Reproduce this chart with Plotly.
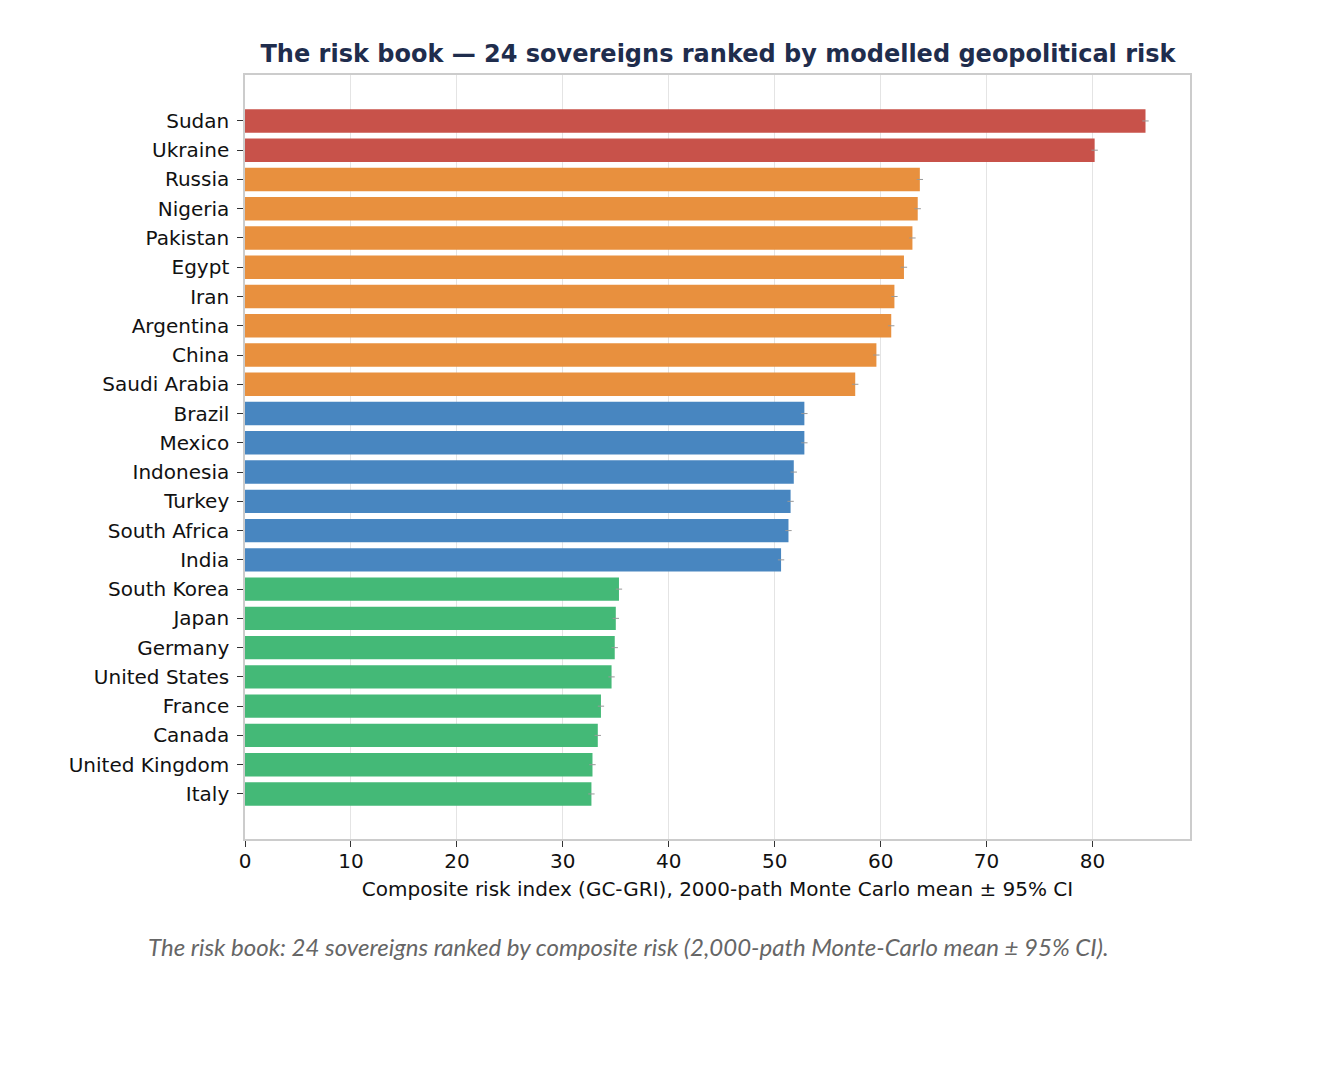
import plotly.graph_objects as go

countries = ["Sudan", "Ukraine", "Russia", "Nigeria", "Pakistan", "Egypt", "Iran",
             "Argentina", "China", "Saudi Arabia", "Brazil", "Mexico", "Indonesia",
             "Turkey", "South Africa", "India", "South Korea", "Japan", "Germany",
             "United States", "France", "Canada", "United Kingdom", "Italy"]
risk_mean = [85.0, 80.2, 63.7, 63.5, 63.0, 62.2, 61.3, 61.0, 59.6, 57.6,
             52.8, 52.8, 51.8, 51.5, 51.3, 50.6,
             35.3, 35.0, 34.9, 34.6, 33.6, 33.3, 32.8, 32.7]
ci_half = [0.3, 0.3, 0.3, 0.3, 0.3, 0.3, 0.3, 0.3, 0.3, 0.3,
           0.3, 0.3, 0.3, 0.3, 0.3, 0.3,
           0.3, 0.3, 0.3, 0.3, 0.3, 0.3, 0.3, 0.3]
tier = ["critical"] * 2 + ["high"] * 8 + ["elevated"] * 6 + ["moderate"] * 8

tier_colors = {"critical": "#c8524a", "high": "#e8903e",
               "elevated": "#4886c0", "moderate": "#44b977"}

fig = go.Figure()
fig.add_trace(go.Bar(
    x=risk_mean, y=countries, orientation="h",
    marker=dict(color=[tier_colors[t] for t in tier], line=dict(width=0)),
    width=0.8,
    error_x=dict(type="data", array=ci_half, color="#999999", thickness=1, width=0),
    showlegend=False,
))

fig.update_layout(
    width=1323, height=1076,
    paper_bgcolor="white", plot_bgcolor="white",
    margin=dict(l=237, r=141, t=67, b=245),
    font=dict(family="DejaVu Sans", size=20, color="#111111"),
    title=dict(text="<b>The risk book — 24 sovereigns ranked by modelled geopolitical risk</b>",
               x=(717 - 7) / 1323, xanchor="center", y=1 - (53 - 7) / 1076, yanchor="middle",
               font=dict(family="DejaVu Sans", size=24, color="#1f2d4d")),
    xaxis=dict(range=[0, 89.2], tick0=0, dtick=10, showgrid=True, gridcolor="#e4e4e4",
               gridwidth=1.2, zeroline=False, showline=True, linecolor="#cccccc",
               linewidth=1.5, mirror=True, ticks="outside", ticklen=6, tickcolor="#333333",
               tickfont=dict(size=20), ticklabelstandoff=-3,
               title=dict(text="Composite risk index (GC-GRI), 2000-path Monte Carlo mean ± 95% CI",
                          font=dict(size=20), standoff=10)),
    yaxis=dict(categoryorder="array", categoryarray=countries,
               range=[23 + 1.54, -1.57], showgrid=False, zeroline=False,
               showline=True, linecolor="#cccccc", linewidth=1.5, mirror=True,
               ticks="outside", ticklen=6, tickcolor="#333333", tickfont=dict(size=20),
               ticklabelstandoff=4),
    bargap=0.2,
)

fig.add_annotation(
    text="<i>The risk book: 24 sovereigns ranked by composite risk (2,000-path Monte-Carlo mean ± 95% CI).</i>",
    xref="paper", yref="paper", x=(627 - 244) / 945, y=-(945 - 838) / 764,
    xanchor="center", yanchor="middle", showarrow=False,
    font=dict(family="Lato", size=24, color="#666666"),
)

fig.write_html("out.html")
